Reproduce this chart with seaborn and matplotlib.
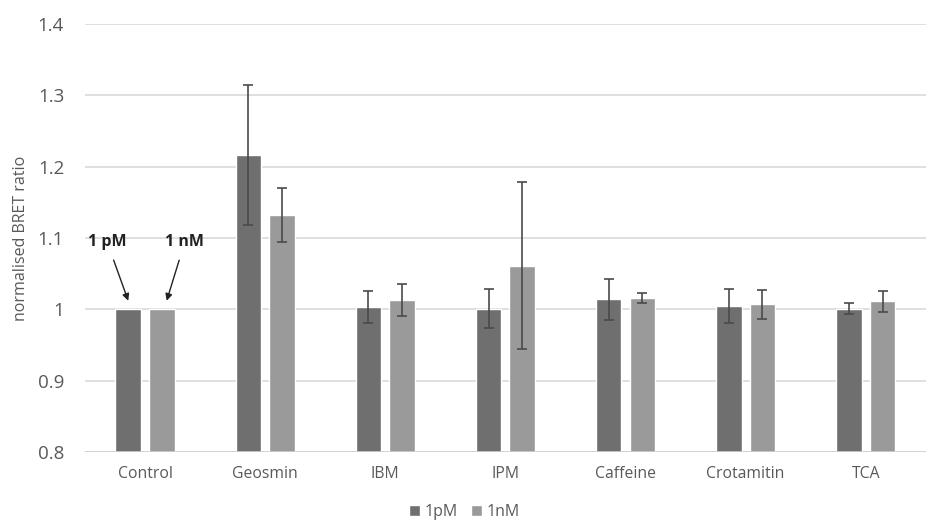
import matplotlib
matplotlib.use("Agg")
import matplotlib.pyplot as plt
import seaborn as sns
import pandas as pd
import numpy as np
from matplotlib.ticker import FuncFormatter

categories = ["Control", "Geosmin", "IBM", "IPM", "Caffeine", "Crotamitin", "TCA"]
series = ["1pM", "1nM"]
vals_1pM = [1.0, 1.216, 1.003, 1.001, 1.014, 1.005, 1.001]
vals_1nM = [1.0, 1.132, 1.013, 1.061, 1.016, 1.007, 1.011]
err_1pM = [0.0, 0.098, 0.022, 0.027, 0.029, 0.024, 0.008]
err_1nM = [0.0, 0.038, 0.022, 0.117, 0.007, 0.020, 0.015]
yticks = [0.8, 0.9, 1.0, 1.1, 1.2, 1.3, 1.4]

sns.set_theme(style="white")
plt.rcParams['font.family'] = ['Open Sans', 'DejaVu Sans']

df = pd.DataFrame({
    "category": categories * 2,
    "series": [series[0]] * len(categories) + [series[1]] * len(categories),
    "value": vals_1pM + vals_1nM,
})

fig = plt.figure(figsize=(9.29, 5.26), dpi=100)
ax = fig.add_axes([0.0915, 0.141, 0.905, 0.813])

palette = {"1pM": "#6f6f6f", "1nM": "#9a9a9a"}
sns.barplot(data=df, x="category", y="value", hue="series", hue_order=series,
            order=categories, palette=palette, width=0.56, gap=0.24,
            errorbar=None, ax=ax, legend=True, saturation=1)

# error bars placed at bar centres taken from the drawn patches
n = len(categories)
bars = [p for p in ax.patches if p.get_height() > 0][:2 * n]
errs = err_1pM + err_1nM
vals = vals_1pM + vals_1nM
for p, v, e in zip(bars, vals, errs):
    if e > 0:
        cx = p.get_x() + p.get_width() / 2
        ax.errorbar(cx, v, yerr=e, fmt="none", ecolor="#4a4a4a",
                    elinewidth=1.2, capsize=3.5, capthick=1.2, zorder=5)

ax.set_ylim(0.8, 1.4)
ax.set_xlim(-0.5, n - 0.5)
ax.set_yticks(yticks)
ax.yaxis.set_major_formatter(FuncFormatter(lambda v, _: f"{v:g}"))
ax.yaxis.grid(True, color="#d9d9d9", linewidth=1.2)
ax.set_axisbelow(True)
for s in ax.spines.values():
    s.set_visible(False)
ax.axhline(0.8, color="#d0d0d0", linewidth=1.2, zorder=1)
ax.tick_params(axis="y", labelsize=13.5, labelcolor="#595959", length=0, pad=15)
ax.tick_params(axis="x", labelsize=11.3, labelcolor="#595959", length=0, pad=10)
ax.set_xlabel("")
ax.set_ylabel("normalised BRET ratio", fontsize=11.5, color="#595959", labelpad=6)

# annotations on control bars
b_pm = bars[0]
b_nm = bars[n]
ax.annotate("1 pM", xy=(b_pm.get_x() + b_pm.get_width() / 2, 1.012),
            xytext=(-0.315, 1.094), ha="center", va="center",
            fontsize=11.5, fontweight="bold", color="#222222",
            arrowprops=dict(arrowstyle="-|>", color="#222222", lw=1.0,
                            mutation_scale=10, shrinkA=5, shrinkB=0))
ax.annotate("1 nM", xy=(b_nm.get_x() + b_nm.get_width() / 2 + 0.04, 1.012),
            xytext=(0.33, 1.094), ha="center", va="center",
            fontsize=11.5, fontweight="bold", color="#222222",
            arrowprops=dict(arrowstyle="-|>", color="#222222", lw=1.0,
                            mutation_scale=10, shrinkA=5, shrinkB=0))

leg = ax.get_legend()
handles = leg.legend_handles
leg.remove()
fig.legend(handles, series, loc="center", bbox_to_anchor=(0.50, 0.027),
           ncol=2, frameon=False, fontsize=11.5, handlelength=0.7,
           handleheight=0.7, handletextpad=0.3, columnspacing=0.8,
           labelcolor="#595959")

fig.savefig("out.png", dpi=100)
